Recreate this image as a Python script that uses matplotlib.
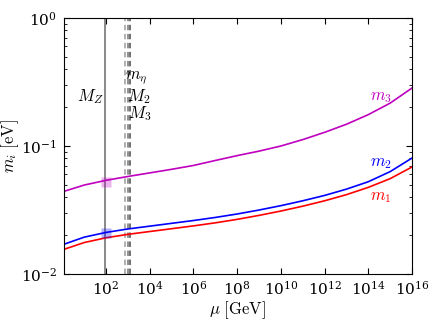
import numpy as np
import matplotlib
matplotlib.use("Agg")
import matplotlib.pyplot as plt
from matplotlib.ticker import LogLocator, NullLocator, LogFormatterMathtext, NullFormatter, FixedLocator

plt.rcParams['mathtext.fontset'] = 'cm'
plt.rcParams['font.family'] = 'serif'
plt.rcParams['font.serif'] = ['DejaVu Serif']

# log10(mu/GeV) sample points
log_mu = [0.08, 1, 2, 3, 4, 5, 6, 7, 8, 9, 10, 11, 12, 13, 14, 15, 16]
m3 = [0.04426, 0.04955, 0.05395, 0.05781, 0.06166, 0.06577, 0.07047, 0.07709, 0.08414,
      0.09120, 0.1000, 0.1122, 0.1279, 0.1479, 0.1758, 0.2163, 0.2838]
m2 = [0.01710, 0.01941, 0.02113, 0.02249, 0.02366, 0.02489, 0.02618, 0.02767, 0.02944,
      0.03162, 0.03420, 0.03733, 0.04111, 0.04603, 0.05260, 0.06310, 0.08054]
m1 = [0.01560, 0.01762, 0.01919, 0.02042, 0.02148, 0.02259, 0.02377, 0.02512, 0.02673,
      0.02871, 0.03105, 0.03388, 0.03733, 0.04169, 0.04753, 0.05559, 0.06855]
x_ticks = [1e2, 1e4, 1e6, 1e8, 1e10, 1e12, 1e14, 1e16]

MZ = 91.19
thresholds = [750.0, 1000.0, 1250.0]
marker_mu = [100.0, 100.0]
marker_m = [0.052, 0.021]
marker_colors = ['m', 'b']

mu = 10 ** np.array(log_mu, dtype=float)

fig = plt.figure(figsize=(4.36, 3.27), dpi=100)
ax = fig.add_axes([0.147, 0.162, 0.798, 0.783])

ax.axvline(MZ, color='gray', lw=1.3)
for t, c in zip(thresholds, ['#aaaaaa', '#888888', '#666666']):
    ax.axvline(t, color=c, lw=1.3, ls=(0, (3, 2)))

ax.plot(mu, m3, color='m', lw=1.2)
ax.plot(mu, m2, color='b', lw=1.2)
ax.plot(mu, m1, color='r', lw=1.2)
for x, y, c in zip(marker_mu, marker_m, marker_colors):
    ax.plot([x], [y], 's', color=c, alpha=0.3, ms=7, mec='none')

ax.set_xscale('log')
ax.set_yscale('log')
ax.set_xlim(1.2, 1e16)
ax.set_ylim(1e-2, 1)
ax.xaxis.set_major_locator(FixedLocator(x_ticks))
ax.xaxis.set_minor_locator(NullLocator())
ax.xaxis.set_major_formatter(LogFormatterMathtext())
ax.yaxis.set_minor_formatter(NullFormatter())
ax.tick_params(which='both', direction='in', top=True, right=True, labelsize=11)
ax.tick_params(axis='x', which='major', pad=4)
ax.tick_params(axis='y', which='major', pad=5)
ax.tick_params(which='major', length=4)
ax.tick_params(which='minor', length=2)
ax.set_xlabel(r'$\mu\ [\mathrm{GeV}]$', fontsize=12)
ax.set_ylabel(r'$m_i\ [\mathrm{eV}]$', fontsize=12)
ax.yaxis.set_label_coords(-0.125, 0.5)
ax.xaxis.set_label_coords(0.5, -0.1)

ax.text(80, 0.245, r'$M_Z$', fontsize=12, ha='right', va='center')
ax.text(760, 0.345, r'$m_\eta$', fontsize=12, ha='left', va='center')
ax.text(900, 0.245, r'$M_2$', fontsize=12, ha='left', va='center')
ax.text(1050, 0.178, r'$M_3$', fontsize=12, ha='left', va='center')
ax.text(1.2e14, 0.245, r'$m_3$', fontsize=12, color='m', ha='left', va='center')
ax.text(1.2e14, 0.075, r'$m_2$', fontsize=12, color='b', ha='left', va='center')
ax.text(1.2e14, 0.040, r'$m_1$', fontsize=12, color='r', ha='left', va='center')

fig.savefig('out.png', dpi=100)
